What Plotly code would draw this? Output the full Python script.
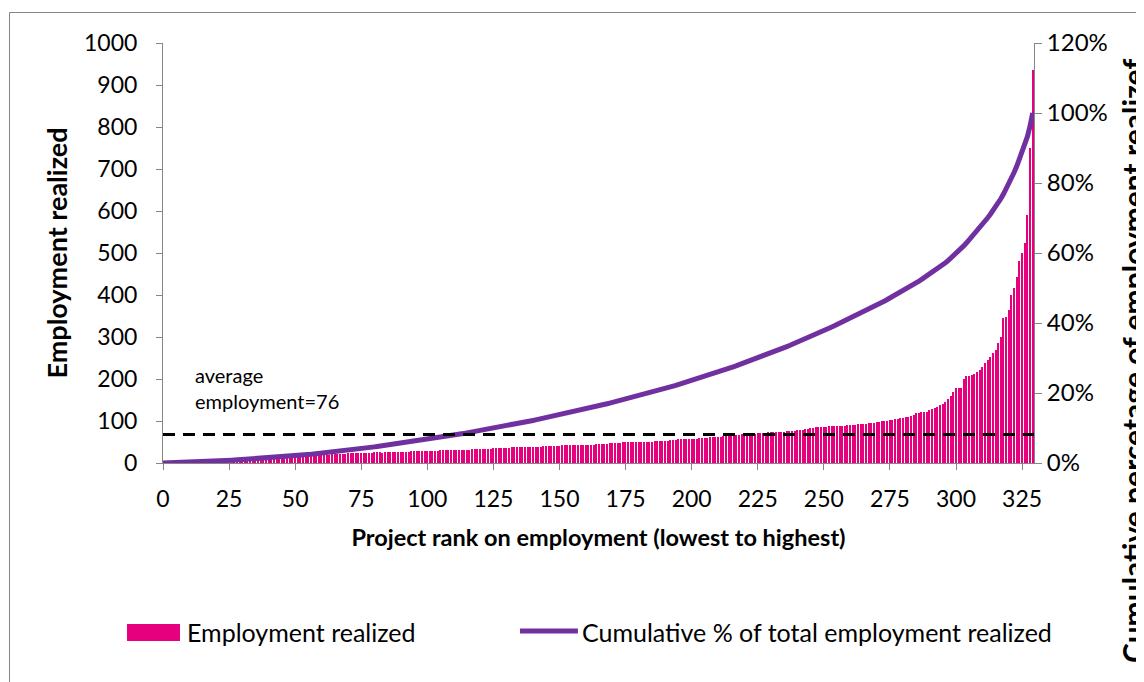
import numpy as np
import plotly.graph_objects as go

# ---------------- data ----------------
# employment realized per project, sorted ascending (ranks 1..329)
employment_ranks_1_82 = [
    4, 4, 5, 5, 5, 6, 6, 6, 7, 7, 7, 7, 8, 8, 8, 8, 9, 9, 9, 9,
    9, 9, 10, 10, 10, 10, 11, 11, 11, 11, 12, 12, 12, 12, 13, 13, 13, 13, 14, 14,
    14, 14, 14, 15, 15, 15, 15, 16, 16, 16,
    16, 17, 17, 17, 18, 18, 18, 19, 19, 19, 20, 20, 20, 21, 21, 21, 22, 22, 22, 23,
    23, 23, 24, 24, 24, 24, 25, 25, 25, 26, 26, 26,
]
employment_ranks_83_199 = [
    25, 26, 26, 26, 26, 26, 27, 27, 27, 27, 27, 28, 28, 28, 28, 28, 28, 29,
    29, 29, 29, 29, 30, 30, 30, 30, 31, 31, 31, 31, 32, 32, 32, 32,
    33, 33, 33, 33, 34, 34, 34, 34, 35, 35, 35, 35, 36, 36, 36, 37,
    37, 37, 37, 38, 38, 38, 38, 39, 39, 39, 39, 40, 40, 40, 41,
    41, 41, 41, 42, 42, 42, 42, 43, 43, 43, 43, 43, 44, 44, 44, 44, 45, 45,
    45, 46, 46, 47, 47, 47, 48, 48, 49, 49, 49, 50, 50,
    50, 50, 51, 51, 51, 51, 51, 52, 52, 52, 52, 53,
    53, 54, 55, 55, 56, 56, 57, 57, 58,
]
employment_ranks_200_295 = [
    57, 58, 58, 59, 59, 60, 60, 61,
    62, 62, 63, 63, 64, 64, 65, 66,
    66, 67, 67, 68, 68, 69, 69, 70,
    70, 71, 71, 72, 72, 73, 73, 73, 74,
    74, 75, 75, 76, 76, 77, 77, 78, 78,
    79, 80, 82, 83, 84, 85, 85,
    86, 86, 86, 87, 87, 87, 88, 88,
    89, 89, 90, 90, 91, 91, 92,
    93, 93, 94, 95, 95, 96, 97, 98,
    99, 100, 101, 102, 103, 104, 105,
    106, 107, 109, 110, 112, 115, 119,
    120, 121, 121, 122, 127,
    128, 131, 134, 138, 140,
]
employment_ranks_296_329 = [
    145, 152, 160, 170, 178, 179, 179, 200, 206, 208, 210, 212, 216, 222, 228, 238, 246,
    252, 262, 270, 285, 300, 345, 348, 365, 400, 416, 444, 480, 500, 523, 590, 749, 936,
]
employment = (employment_ranks_1_82 + employment_ranks_83_199
              + employment_ranks_200_295 + employment_ranks_296_329)
ranks = list(range(1, len(employment) + 1))

average_line_value = 68          # where the dashed line is drawn
average_label = "average<br>employment=76"
x_tick_values = list(range(0, 326, 25))
y_tick_values = list(range(0, 1001, 100))
pct_tick_values = [0, 0.2, 0.4, 0.6, 0.8, 1.0, 1.2]

bar_name = "Employment realized"
line_name = "Cumulative % of total employment realized"

# cumulative share of total employment (starts at 0 for rank 0)
cum_share = np.concatenate([[0.0], np.cumsum(employment) / np.sum(employment)])
cum_ranks = [0] + ranks

# ---------------- styling ----------------
FONT = "Lato"
AXIS_GREY = "#868686"
BAR_PINK = "#E6007E"
LINE_PURPLE = "#7030A0"

fig = go.Figure()
fig.add_trace(go.Bar(
    x=ranks, y=employment, name=bar_name,
    marker=dict(color=BAR_PINK, line=dict(width=0)), width=0.5,
    showlegend=False,
))
fig.add_trace(go.Scatter(
    x=cum_ranks, y=cum_share, yaxis="y2", mode="lines",
    name=line_name, line=dict(color=LINE_PURPLE, width=5),
    showlegend=False,
))

# page body has an 8px margin, so the figure is sized/margined to compensate
fig.update_layout(
    width=1136, height=674,
    margin=dict(l=155, r=110, t=35, b=219),
    paper_bgcolor="white", plot_bgcolor="white",
    font=dict(family=FONT, size=24, color="black"),
    bargap=0,
    xaxis=dict(
        range=[0, 329.5], tickmode="array", tickvals=x_tick_values,
        showgrid=False, zeroline=False, showline=True, linecolor=AXIS_GREY, linewidth=1,
        ticks="outside", ticklen=6, tickcolor=AXIS_GREY, ticklabelstandoff=9,
        tickfont=dict(size=23),
        title=dict(text="<b>Project rank on employment (lowest to highest)</b>",
                   font=dict(size=23.5), standoff=18),
    ),
    yaxis=dict(
        range=[0, 1000], tickmode="array", tickvals=y_tick_values,
        showgrid=False, zeroline=False, showline=True, linecolor=AXIS_GREY, linewidth=1,
        ticks="outside", ticklen=6, tickcolor=AXIS_GREY, ticklabelstandoff=14,
        tickfont=dict(size=23),
        title=dict(text="<b>Employment realized</b>", font=dict(size=27), standoff=8),
    ),
    yaxis2=dict(
        range=[0, 1.2], overlaying="y", side="right", tickmode="array",
        tickvals=pct_tick_values, tickformat=".0%",
        showgrid=False, zeroline=False, showline=True, linecolor=AXIS_GREY, linewidth=1,
        ticks="outside", ticklen=7, tickcolor=AXIS_GREY, ticklabelstandoff=0,
        tickfont=dict(size=24),
    ),
    showlegend=False,
)

# dashed average line across the plot
fig.add_shape(type="line", xref="x domain", x0=0, x1=1, yref="y",
              y0=average_line_value, y1=average_line_value,
              line=dict(color="black", width=3, dash="12px,8px"))

fig.add_annotation(text=average_label, xref="paper", yref="paper",
                   x=0.034, y=0.178, xanchor="left", yanchor="middle", align="left",
                   showarrow=False, font=dict(size=20))

# right-hand axis title (runs off the edge of the chart area in the original)
fig.add_annotation(text="<b>Cumulative percetage of employment realizef</b>",
                   xref="paper", yref="paper", x=1.1137, y=0.243, textangle=-90,
                   xanchor="center", yanchor="middle", showarrow=False,
                   font=dict(size=30))

# legend below the plot (swatch + label for each series)
fig.add_shape(type="rect", xref="paper", yref="paper",
              x0=-0.0413, x1=0.0195, y0=-0.4238, y1=-0.3833,
              line=dict(width=0), fillcolor=BAR_PINK)
fig.add_annotation(text=bar_name, xref="paper", yref="paper",
                   x=0.0253, y=-0.4024, xanchor="left", yanchor="middle",
                   showarrow=False, font=dict(size=25))
fig.add_shape(type="line", xref="paper", yref="paper",
              x0=0.4099, x1=0.4764, y0=-0.4, y1=-0.4,
              line=dict(color=LINE_PURPLE, width=5))
fig.add_annotation(text=line_name, xref="paper", yref="paper",
                   x=0.4788, y=-0.4024, xanchor="left", yanchor="middle",
                   showarrow=False, font=dict(size=25))

# outer chart-area border
fig.add_shape(type="rect", xref="paper", yref="paper",
              x0=-0.1762, x1=1.2, y0=-0.6, y1=1.0726,
              line=dict(color=AXIS_GREY, width=1), fillcolor="rgba(0,0,0,0)", layer="below")

fig.write_html("out.html")
